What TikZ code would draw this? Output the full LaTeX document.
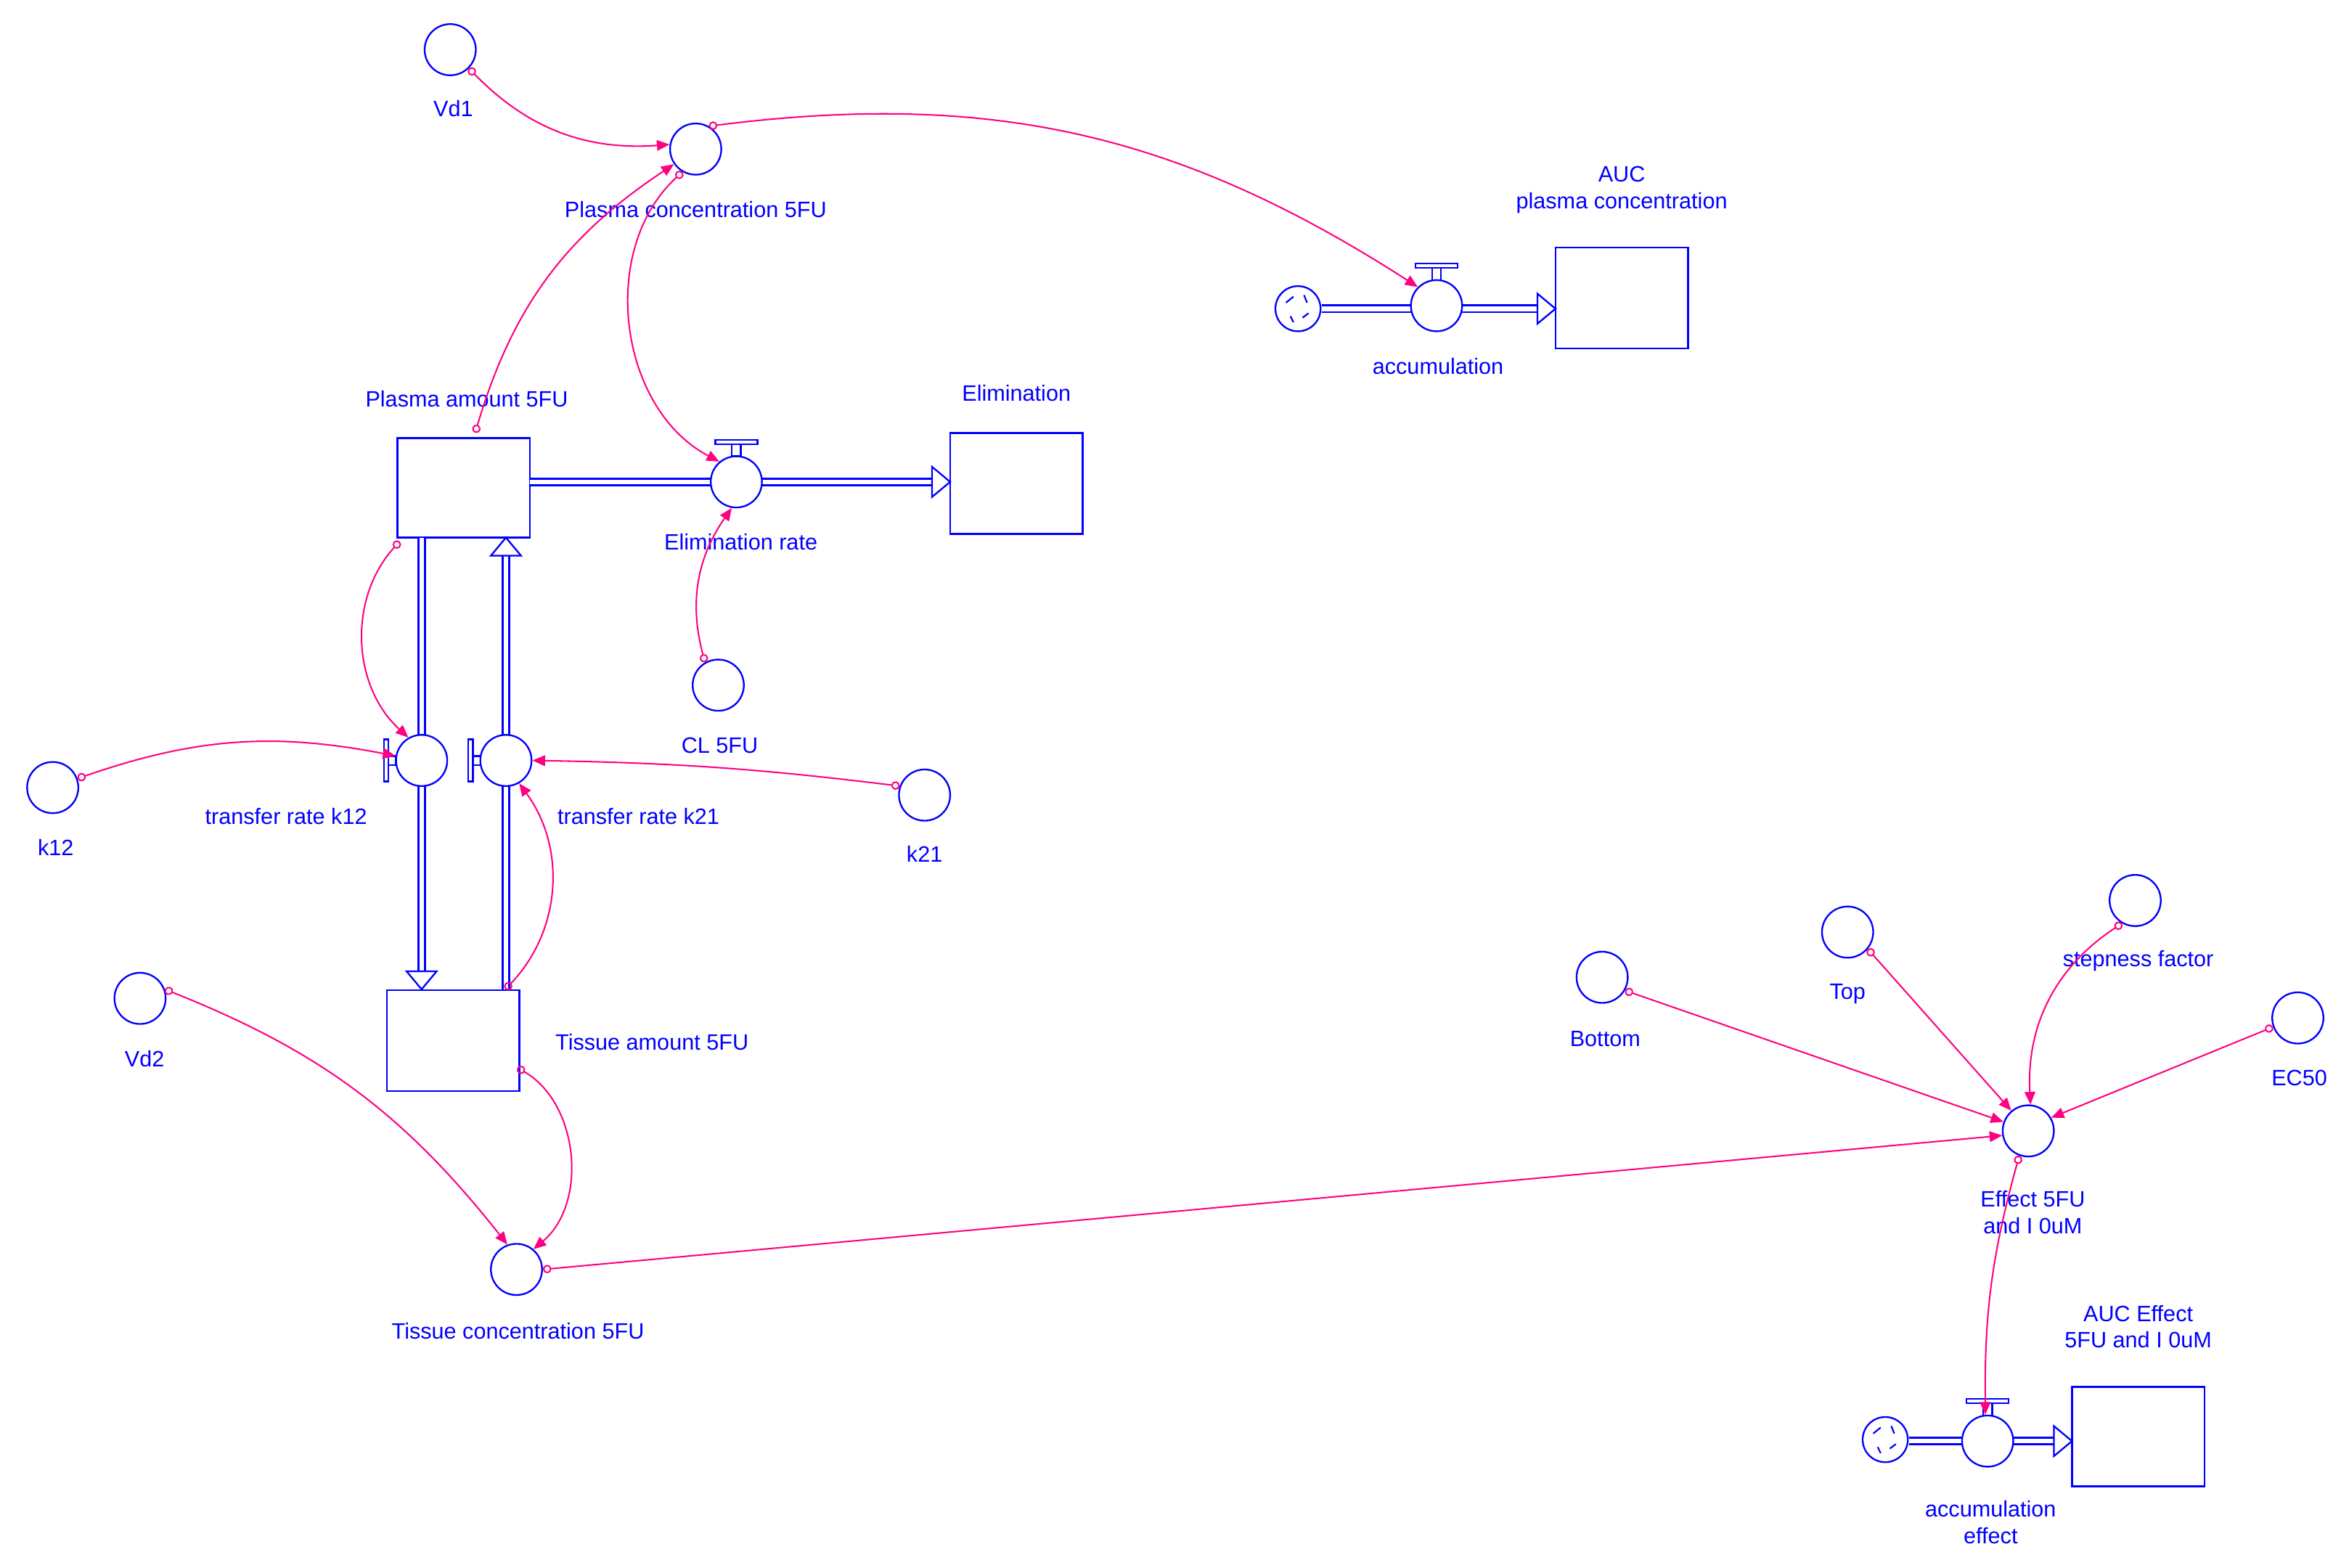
\documentclass[tikz,border=0pt]{standalone}
\usepackage{fontspec}
\setmainfont{Liberation Sans}
\usetikzlibrary{arrows.meta}
\definecolor{fb}{RGB}{0,0,255}
\definecolor{mg}{RGB}{255,0,128}
\begin{document}
\begin{tikzpicture}[x=0.05cm,y=-0.05cm,
  conv/.style={circle,draw=fb,line width=1.6pt,minimum size=1.7cm,inner sep=0pt},
  stock/.style={draw=fb,line width=1.6pt,inner sep=0pt},
  lab/.style={text=fb,font=\fontsize{21}{25}\selectfont,align=center},
  pipe/.style={draw=fb,line width=1.8pt,double=white,double distance=4.5pt},
  tip/.style={draw=fb,fill=white,line width=1.6pt},
  con/.style={draw=mg,line width=1.4pt,{Circle[open,length=8pt,width=8pt]}-{Triangle[length=12pt,width=10pt]}}]
\useasboundingbox (0,0) rectangle (1560,1041);
% stocks
\node[stock,minimum width=4.4cm,minimum height=3.3cm] (PA) at (308,324) {};
\node[stock,minimum width=4.4cm,minimum height=3.35cm] (EL) at (675,321) {};
\node[stock,minimum width=4.4cm,minimum height=3.35cm] (TA) at (301,691) {};
\node[stock,minimum width=4.4cm,minimum height=3.35cm] (AUC) at (1077,198) {};
\node[stock,minimum width=4.4cm,minimum height=3.3cm] (AUCE) at (1420,954) {};
% pipes
\draw[pipe] (352,320) -- (619,320);
\draw[tip] (619,310) -- (631,320) -- (619,330) -- cycle;
\draw[pipe] (878,205) -- (1021,205);
\draw[tip] (1021,195) -- (1033,205) -- (1021,215) -- cycle;
\draw[pipe] (1268,957) -- (1364,957);
\draw[tip] (1364,947) -- (1376,957) -- (1364,967) -- cycle;
\draw[pipe] (280,357) -- (280,645);
\draw[tip] (270,645) -- (280,657) -- (290,645) -- cycle;
\draw[pipe] (336,657) -- (336,369);
\draw[tip] (326,369) -- (336,357) -- (346,369) -- cycle;
% valves
\foreach \n/\x/\y in {EV/489/320,AV/954/203,AEV/1320/957}{
  \node[conv,fill=white] (\n) at (\x,\y) {};
  \draw[fb,line width=1.6pt] (\x-3,\y-17) rectangle (\x+3,\y-25);
  \draw[fb,line width=1.6pt] (\x-14,\y-25) rectangle (\x+14,\y-28);}
\foreach \n/\x/\y in {V12/280/505,V21/336/505}{
  \node[conv,fill=white] (\n) at (\x,\y) {};
  \draw[fb,line width=1.6pt] (\x-17,\y-3) rectangle (\x-22,\y+3);
  \draw[fb,line width=1.6pt] (\x-22,\y-14) rectangle (\x-25,\y+14);}
% clouds
\foreach \n/\x/\y in {C1/862/205,C2/1252/956}{
  \node[conv,minimum size=1.5cm,fill=white] (\n) at (\x,\y) {};
  \draw[fb,line width=1.5pt] (\x-8,\y-4) -- (\x-3,\y-8) (\x+4,\y-9)--(\x+6,\y-4) (\x+7,\y+3)--(\x+3,\y+6) (\x-5,\y+5)--(\x-3,\y+9);}
% converters
\node[conv] (Vd1) at (299,33) {};
\node[conv] (PC) at (462,99) {};
\node[conv] (CL) at (477,455) {};
\node[conv] (k12) at (35,523) {};
\node[conv] (k21) at (614,528) {};
\node[conv] (Vd2) at (93,663) {};
\node[conv] (TC) at (343,843) {};
\node[conv] (Bot) at (1064,649) {};
\node[conv] (Top) at (1227,619) {};
\node[conv] (St) at (1418,598) {};
\node[conv] (EC) at (1526,676) {};
\node[conv] (EF) at (1347,751) {};
% labels
\node[lab] (lVd1) at (301,72) {Vd1};
\node[lab] (lPC) at (462,139) {Plasma concentration 5FU};
\node[lab] (lAUC) at (1077,126) {AUC\\plasma concentration};
\node[lab] (lAV) at (955,243) {accumulation};
\node[lab] (lPA) at (310,265) {Plasma amount 5FU};
\node[lab] (lEV) at (492,360) {Elimination rate};
\node[lab] (lEL) at (675,261) {Elimination};
\node[lab] (lCL) at (478,495) {CL 5FU};
\node[lab] (lk12) at (37,563) {k12};
\node[lab] (lV12) at (190,542) {transfer rate k12};
\node[lab] (lV21) at (424,542) {transfer rate k21};
\node[lab] (lk21) at (614,567) {k21};
\node[lab] (lTA) at (433,692) {Tissue amount 5FU};
\node[lab] (lVd2) at (96,703) {Vd2};
\node[lab] (lTC) at (344,884) {Tissue concentration 5FU};
\node[lab] (lBot) at (1066,690) {Bottom};
\node[lab] (lTop) at (1227,660) {Top};
\node[lab] (lSt) at (1420,638) {stepness factor};
\node[lab] (lEC) at (1527,716) {EC50};
\node[lab] (lEF) at (1350,805) {Effect 5FU\\and I 0uM};
\node[lab] (lAUCE) at (1420,881) {AUC Effect\\5FU and I 0uM};
\node[lab] (lAEV) at (1322,1011) {accumulation\\effect};
% connectors
\draw[con] (Vd1.-45) to[bend right=25] (PC.170);
\draw[con] (PA.north east) ++(-37,-3) to[bend left=20] (PC.215);
\draw[con] (PC.240) to[bend right=55] (EV.130);
\draw[con] (PC.60) to[bend left=20] (AV.135);
\draw[con] (CL.120) to[bend left=25] (EV.260);
\draw[con] (PA.south west) ++(2,2) to[bend right=45] (V12.120);
\draw[con] (k12.20) to[bend left=15] (V12.170);
\draw[con] (k21.160) to[bend right=3] (V21.0);
\draw[con] (TA.north east) ++(-10,0) to[bend right=40] (V21.-60);
\draw[con] (Vd2.20) to[bend left=15] (TC.110);
\draw[con] (TA.south east) ++(-2,-16) to[bend left=55] (TC.50);
\draw[con] (TC.0) -- (EF.190);
\draw[con] (Bot.-30) -- (EF.160);
\draw[con] (Top.-40) -- (EF.130);
\draw[con] (St.-120) to[bend right=30] (EF.85);
\draw[con] (EC.200) -- (EF.30);
\draw[con] (EF.-110) to[bend right=8] (AEV.95);
\end{tikzpicture}
\end{document}
